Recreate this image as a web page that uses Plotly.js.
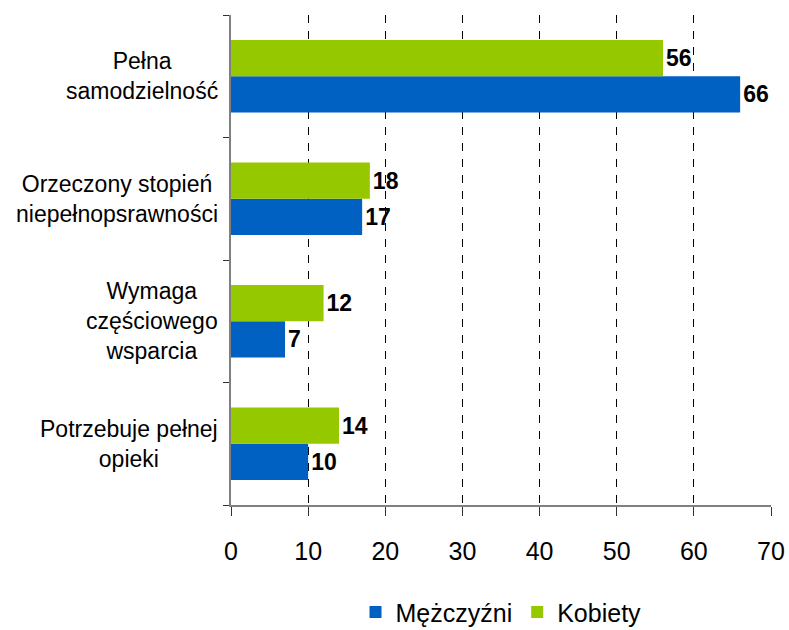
<!DOCTYPE html>
<html>
<head>
<meta charset="utf-8">
<script src="https://cdn.plot.ly/plotly-3.0.1.min.js"></script>
<style>body{margin:0;background:#fff;}#chart{width:789px;height:630px;}</style>
</head>
<body>
<div id="chart"></div>
<script>
var categories = ["Pełna<br>samodzielność", "Orzeczony stopień<br>niepełnopsrawności", "Wymaga<br>częściowego<br>wsparcia", "Potrzebuje pełnej<br>opieki"];
var men = [66, 17, 7, 10];
var women = [56, 18, 12, 14];
var seriesNames = ["Mężczyźni", "Kobiety"];
var xTicks = [0, 10, 20, 30, 40, 50, 60, 70];

var font = "Arial, 'Liberation Sans', sans-serif";
var traces = [
  {type: "bar", orientation: "h", name: seriesNames[0], y: categories, x: men,
   marker: {color: "#0061C2"}, text: men.map(String), textposition: "outside",
   textfont: {family: font, size: 23, color: "#000", weight: "bold"}, cliponaxis: false},
  {type: "bar", orientation: "h", name: seriesNames[1], y: categories, x: women,
   marker: {color: "#96C800"}, text: women.map(String), textposition: "outside",
   textfont: {family: font, size: 23, color: "#000", weight: "bold"}, cliponaxis: false}
];
var annotations = categories.map(function(c){
  return {xref: "paper", yref: "y", x: -0.02, y: c, xanchor: "right", yanchor: "middle",
    text: c, align: "center", showarrow: false, font: {family: font, size: 23, color: "#000"}};
});
var layout = {
  width: 789, height: 630,
  margin: {l: 231, r: 18, t: 15, b: 125, autoexpand: false},
  paper_bgcolor: "#fff", plot_bgcolor: "#fff",
  font: {family: font, color: "#000"},
  barmode: "group", bargap: 0.41, bargroupgap: 0,
  showlegend: true,
  legend: {orientation: "h", xref: "paper", x: 0.5, xanchor: "center",
    yref: "container", y: 0.028, yanchor: "middle",
    font: {family: font, size: 25, color: "#000"}},
  xaxis: {range: [0, 70], tickvals: xTicks, ticktext: xTicks.map(String),
    showgrid: true, gridcolor: "#000", griddash: "8px,8px", gridwidth: 1,
    zeroline: false, showline: true, linecolor: "#808080", linewidth: 2,
    ticks: "outside", ticklen: 9, tickcolor: "#333", tickwidth: 1,
    ticklabelstandoff: 14,
    tickfont: {family: font, size: 25, color: "#000"}, fixedrange: true, automargin: false},
  yaxis: {type: "category", categoryorder: "array", categoryarray: categories.slice().reverse(),
    showticklabels: false, showline: true, linecolor: "#808080", linewidth: 2,
    ticks: "outside", tickson: "boundaries", ticklen: 6, tickcolor: "#333",
    showgrid: false, zeroline: false, fixedrange: true, automargin: false},
  annotations: annotations
};
Plotly.newPlot("chart", traces, layout, {displayModeBar: false, staticPlot: true});
</script>
</body>
</html>
